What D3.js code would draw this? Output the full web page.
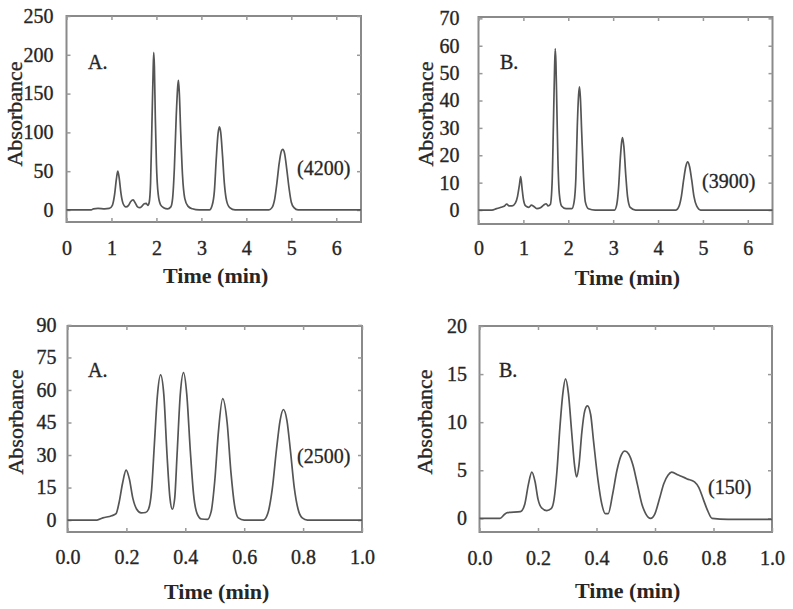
<!DOCTYPE html>
<html>
<head>
<meta charset="utf-8">
<script src="https://cdn.jsdelivr.net/npm/d3@7"></script>
<style>
  html, body { margin: 0; padding: 0; background: #fff; }
  svg text { font-family: "Liberation Serif", "DejaVu Serif", serif !important; fill: #262626; }
</style>
</head>
<body>
<svg id="chart" width="793" height="609"></svg>
<script>
// ---------- Data ----------
// Top-left panel A (label 4200)
const timeTopA = [0,0.55,0.6,0.7,0.85,0.95,1.02,1.07,1.11,1.14,1.17,1.21,1.26,1.32,1.38,1.43,1.48,1.53,1.58,1.63,1.68,1.73,1.77,1.81,1.84,1.87,1.9,1.925,1.94,1.955,1.975,2.0,2.04,2.09,2.16,2.25,2.32,2.36,2.4,2.44,2.475,2.49,2.51,2.54,2.58,2.63,2.7,2.8,2.95,3.18,3.24,3.29,3.33,3.37,3.40,3.43,3.47,3.51,3.56,3.63,3.75,4.5,4.57,4.63,4.68,4.73,4.78,4.81,4.85,4.9,4.95,5.0,5.06,5.15,6.55];
const absTopA  = [0,0,1.5,2,1.5,2,6,20,40,50,42,22,8,4,6,11,13,9,4,3,5,8,8.5,6,10,35,110,175,203,185,120,60,20,7,3,1.5,4,15,55,120,160,167,150,100,45,15,5,1.5,0,0,6,25,65,98,107,100,70,35,12,3,0,0,3,14,35,60,76,78,73,52,28,10,3,0,0];

// Top-right panel B (label 3900)
const timeTopB = [0,0.3,0.4,0.5,0.58,0.63,0.68,0.75,0.82,0.87,0.91,0.94,0.97,1.0,1.05,1.12,1.18,1.22,1.3,1.38,1.45,1.51,1.55,1.6,1.64,1.67,1.695,1.71,1.725,1.745,1.77,1.8,1.85,1.95,2.08,2.13,2.17,2.2,2.23,2.25,2.27,2.3,2.34,2.38,2.45,2.6,3.03,3.08,3.12,3.16,3.19,3.21,3.24,3.28,3.32,3.38,3.5,4.4,4.47,4.52,4.57,4.62,4.66,4.7,4.75,4.8,4.86,4.95,6.55];
const absTopB  = [0,0,0.5,1,1.5,2.2,1.5,1.5,2.5,5,9,12.2,8,4,1.5,1,1.8,1.5,0.5,0.8,1.8,2.3,1.5,2,10,32,52,59,54,38,18,6,1.5,0.5,0.5,3,12,30,42,45,41,28,12,3,0.5,0,0,2,8,19,25,26.5,23,13,5,1,0,0,1.5,5,11,16,17.6,16,11,5,1.5,0,0];

// Bottom-left panel A (label 2500)
const timeBotA = [0,0.1,0.12,0.15,0.165,0.175,0.187,0.199,0.21,0.222,0.235,0.25,0.265,0.275,0.285,0.295,0.305,0.316,0.327,0.338,0.348,0.356,0.364,0.372,0.383,0.394,0.405,0.417,0.428,0.44,0.455,0.475,0.488,0.5,0.512,0.527,0.542,0.555,0.567,0.58,0.6,0.665,0.68,0.695,0.71,0.722,0.733,0.745,0.757,0.77,0.783,0.797,0.815,1.0];
const absBotA  = [0,0,1,2,3,8,17,23,19,10,5,3.3,3.5,5,13,35,57,67,58,30,10,5,10,30,58,68,58,32,12,3,0.5,0.3,4,18,40,56,45,22,7,1,0,0,3,14,33,46,51,46,32,15,5,1,0,0];

// Bottom-right panel B (label 150)
const timeBotB = [0,0.07,0.085,0.095,0.14,0.155,0.167,0.179,0.19,0.2,0.212,0.23,0.245,0.255,0.265,0.275,0.285,0.294,0.304,0.315,0.325,0.332,0.34,0.35,0.36,0.369,0.38,0.39,0.405,0.418,0.43,0.44,0.455,0.47,0.485,0.497,0.51,0.525,0.54,0.555,0.568,0.585,0.6,0.615,0.63,0.645,0.657,0.68,0.71,0.735,0.75,0.765,0.78,0.795,0.85,1.0];
const absBotB  = [0,0,0.4,0.6,0.7,1.5,3.5,4.8,3.8,2,1.1,0.8,1,2,5,9.5,13,14.5,13,9,5.5,4.3,5.5,9,11.2,11.7,10.8,8,4,1.5,0.5,0.5,2.5,5,6.6,7,6.7,5.5,3.5,1.5,0.5,0,0.5,2,3.6,4.5,4.8,4.5,4.1,3.8,3.2,2,0.8,0,-0.1,-0.1];

// Tick values / labels
const xTicksTop    = [0,1,2,3,4,5,6];
const xTicksBottom = [0,0.2,0.4,0.6,0.8,1.0];
const yTicksTopA   = [0,50,100,150,200,250];
const yTicksTopB   = [0,10,20,30,40,50,60,70];
const yTicksBotA   = [0,15,30,45,60,75,90];
const yTicksBotB   = [0,5,10,15,20];

const panelLetters = ["A.","B.","A.","B."];
const plateCounts  = ["(4200)","(3900)","(2500)","(150)"];
const xTitle = "Time (min)";
const yTitle = "Absorbance";

// ---------- Layout ----------
const panels = [
  { t: timeTopA, a: absTopA, xd: [0,6.55], yd: [-15.5,250], xt: xTicksTop, yt: yTicksTopA, xf: d3.format("d"),
    L: 66.5, R: 361, T: 16, B: 222, yPad: 13, xPad: 19, letter: [88,69], count: [297,175], xTitleY: 283, yTitleX: 15, yTitleY: 114 },
  { t: timeTopB, a: absTopB, xd: [0,6.55], yd: [-5.1,70.5], xt: xTicksTop, yt: yTicksTopB, xf: d3.format("d"),
    L: 478.5, R: 772.5, T: 17, B: 224, yPad: 19, xPad: 17, letter: [500,69], count: [702,188], xTitleY: 285, yTitleX: 426, yTitleY: 114 },
  { t: timeBotA, a: absBotA, xd: [0,1], yd: [-5.5,89.5], xt: xTicksBottom, yt: yTicksBotA, xf: d3.format(".1f"),
    L: 67.5, R: 362, T: 326, B: 532, yPad: 11, xPad: 18, letter: [88,377], count: [297,463], xTitleY: 599, yTitleX: 15.5, yTitleY: 422 },
  { t: timeBotB, a: absBotB, xd: [0,1], yd: [-1.42,20], xt: xTicksBottom, yt: yTicksBotB, xf: d3.format(".1f"),
    L: 479.5, R: 772, T: 326, B: 532, yPad: 12.5, xPad: 19, letter: [499,377], count: [708,494], xTitleY: 598, yTitleX: 425, yTitleY: 422 }
];

const FONT = "font-family: 'Liberation Serif', 'DejaVu Serif', serif;";
const svg = d3.select("#chart");

panels.forEach((p, i) => {
  const x = d3.scaleLinear().domain(p.xd).range([p.L, p.R]);
  const y = d3.scaleLinear().domain(p.yd).range([p.B, p.T]);
  const g = svg.append("g");

  // frame
  g.append("rect").attr("x", p.L).attr("y", p.T).attr("width", p.R - p.L).attr("height", p.B - p.T)
    .attr("fill", "none").attr("stroke", "#8a8a8a").attr("stroke-width", 2);

  // axes (inward ticks)
  const ax = g.append("g").attr("transform", `translate(0,${p.B})`)
    .call(d3.axisBottom(x).tickValues(p.xt).tickFormat(p.xf).tickSizeInner(-4).tickSizeOuter(0).tickPadding(p.xPad));
  const axTop = g.append("g").attr("transform", `translate(0,${p.T})`)
    .call(d3.axisTop(x).tickValues(p.xt).tickFormat("").tickSizeInner(-4).tickSizeOuter(0));
  const ay = g.append("g").attr("transform", `translate(${p.L},0)`)
    .call(d3.axisLeft(y).tickValues(p.yt).tickSizeInner(-4).tickSizeOuter(0).tickPadding(p.yPad));
  const ayR = g.append("g").attr("transform", `translate(${p.R},0)`)
    .call(d3.axisRight(y).tickValues(p.yt).tickFormat("").tickSizeInner(-4).tickSizeOuter(0));
  [ax, axTop, ay, ayR].forEach(a => {
    a.attr("font-family", null);
    a.select(".domain").remove();
    a.selectAll(".tick line").attr("stroke", "#999").attr("stroke-width", 1.5);
    a.selectAll(".tick text").attr("font-size", 20).attr("fill", "#262626")
      .attr("stroke", "#262626").attr("stroke-width", 0.35).attr("style", FONT);
  });

  // trace
  const pts = p.t.map((tv, k) => [tv, p.a[k]]);
  const line = d3.line().x(d => x(d[0])).y(d => y(d[1])).curve(d3.curveMonotoneX);
  g.append("path").datum(pts).attr("d", line).attr("fill", "none")
    .attr("stroke", "#555").attr("stroke-width", 1.7).attr("stroke-linejoin", "round");

  // annotations
  g.append("text").attr("x", p.letter[0]).attr("y", p.letter[1]).attr("font-size", 20)
    .attr("stroke", "#262626").attr("stroke-width", 0.35).attr("style", FONT).text(panelLetters[i]);
  g.append("text").attr("x", p.count[0]).attr("y", p.count[1]).attr("font-size", 20)
    .attr("stroke", "#262626").attr("stroke-width", 0.3).attr("style", FONT).text(plateCounts[i]);

  // axis titles
  g.append("text").attr("x", (p.L + p.R) / 2 + 2).attr("y", p.xTitleY).attr("text-anchor", "middle")
    .attr("font-size", 22).attr("font-weight", "bold").attr("style", FONT).text(xTitle);
  g.append("text").attr("transform", `translate(${p.yTitleX + 7},${p.yTitleY}) rotate(-90)`)
    .attr("text-anchor", "middle").attr("font-size", 22)
    .attr("stroke", "#262626").attr("stroke-width", 0.35).attr("style", FONT).text(yTitle);
});
</script>
</body>
</html>
